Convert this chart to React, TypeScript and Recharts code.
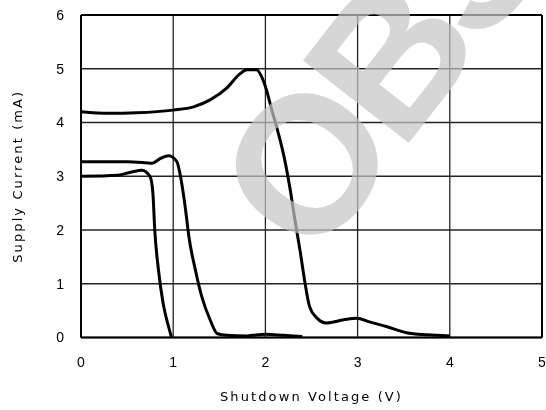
import { LineChart, Line, XAxis, YAxis, CartesianGrid, ReferenceLine } from "recharts";

// shutdown voltage (V) / supply current (mA), three traces
const HIGH_V = [0, 0.3, 0.6, 1.0, 1.22, 1.4, 1.58, 1.72, 1.8, 1.9, 2.0, 2.07, 2.14, 2.21, 2.27, 2.32, 2.38, 2.43, 2.48, 2.56, 2.66, 2.85, 2.99, 3.13, 3.32, 3.53, 3.75, 4.0];
const HIGH_I = [4.2, 4.17, 4.18, 4.23, 4.29, 4.42, 4.64, 4.9, 4.98, 4.98, 4.67, 4.23, 3.8, 3.3, 2.74, 2.19, 1.57, 1.01, 0.57, 0.36, 0.27, 0.33, 0.36, 0.29, 0.2, 0.09, 0.05, 0.03];

const MID_V = [0, 0.5, 0.7, 0.77, 0.85, 0.95, 1.04, 1.08, 1.13, 1.17, 1.24, 1.31, 1.4, 1.48, 1.58, 1.8, 2.0, 2.2, 2.4];
const MID_I = [3.27, 3.27, 3.25, 3.24, 3.32, 3.38, 3.27, 2.99, 2.43, 1.88, 1.26, 0.76, 0.33, 0.07, 0.04, 0.03, 0.06, 0.04, 0.02];

const LOW_V = [0, 0.4, 0.55, 0.66, 0.75, 0.78, 0.8, 0.84, 0.89, 0.95, 0.98];
const LOW_I = [3.0, 3.02, 3.08, 3.11, 2.99, 2.68, 2.0, 1.26, 0.64, 0.2, 0.01];

const X_TICKS = [0, 1, 2, 3, 4, 5];
const Y_TICKS = [0, 1, 2, 3, 4, 5, 6];

const toRows = (v: number[], i: number[]) => v.map((x, k) => ({ v: x, i: i[k] }));

const SERIES = [
  { name: "high", data: toRows(HIGH_V, HIGH_I) },
  { name: "mid", data: toRows(MID_V, MID_I) },
  { name: "low", data: toRows(LOW_V, LOW_I) },
];

const TICK_STYLE = { fill: "#000", fontSize: 14, fontFamily: "Liberation Sans, Arial, sans-serif" };
const TITLE_STYLE = { fill: "#000", fontSize: 13, fontFamily: "DejaVu Sans, sans-serif", letterSpacing: 2.1 };
const BORDER = { stroke: "#000", strokeWidth: 2 };

export default function App() {
  // pinned to the window corner so the plot can run to the right edge
  return (
    <div style={{ position: "fixed", left: 0, top: 0, width: 546, height: 410 }}>
      <LineChart width={546} height={410} margin={{ top: 15, right: 4, left: 0, bottom: 2.5 }}>
        <CartesianGrid stroke="#222" strokeWidth={1.3} horizontalValues={Y_TICKS} verticalValues={X_TICKS} />
        <XAxis
          dataKey="v"
          type="number"
          domain={[0, 5]}
          ticks={X_TICKS}
          interval={0}
          allowDuplicatedCategory={false}
          tickLine={false}
          axisLine={BORDER}
          tick={TICK_STYLE}
          tickMargin={14}
          height={70}
          label={{ value: "Shutdown Voltage (V)", position: "insideBottom", offset: 6.5, style: TITLE_STYLE }}
        />
        <YAxis
          dataKey="i"
          type="number"
          domain={[0, 6]}
          ticks={Y_TICKS}
          interval={0}
          tickLine={false}
          axisLine={BORDER}
          tick={TICK_STYLE}
          tickMargin={11}
          width={81}
          label={{ value: "Supply Current (mA)", angle: -90, position: "insideLeft", offset: 17, style: { ...TITLE_STYLE, textAnchor: "middle" } }}
        />
        <ReferenceLine x={5} {...BORDER} ifOverflow="visible" />
        <ReferenceLine y={6} {...BORDER} ifOverflow="visible" />
        {SERIES.map((s) => (
          <Line
            key={s.name}
            data={s.data}
            dataKey="i"
            type="monotone"
            stroke="#000"
            strokeWidth={3}
            dot={false}
            isAnimationActive={false}
          />
        ))}
      </LineChart>
      {/* watermark laid over the whole picture */}
      <svg
        width={546}
        height={410}
        style={{ position: "absolute", left: 0, top: 0, pointerEvents: "none", overflow: "hidden" }}
      >
        <text
          x={313.5}
          y={265}
          transform="rotate(-52 313.5 265)"
          fill="#c5c5c5"
          fillOpacity={0.71}
          fontSize={195}
          fontWeight="bold"
          letterSpacing={-10}
          fontFamily="Liberation Sans, Arial, sans-serif"
        >
          OBSOLETE
        </text>
      </svg>
    </div>
  );
}
